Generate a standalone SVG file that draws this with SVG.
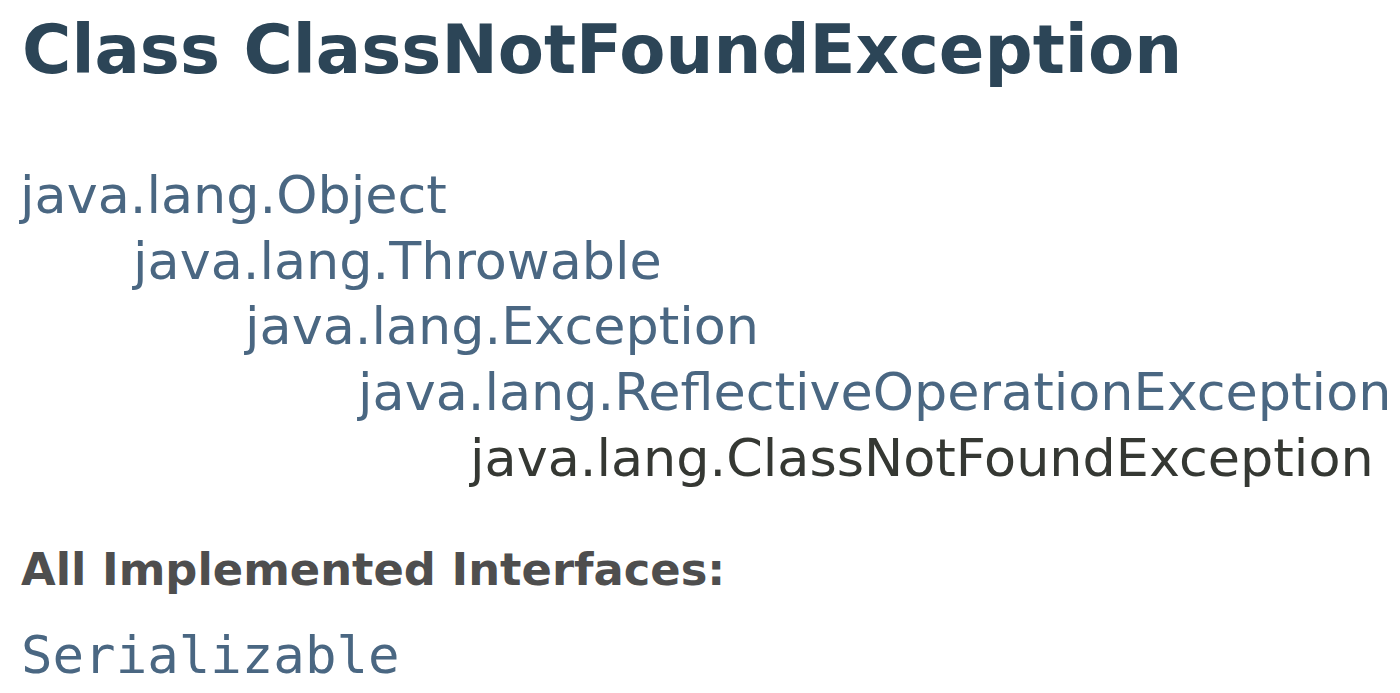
<svg xmlns="http://www.w3.org/2000/svg" width="1400" height="693" viewBox="0 0 1400 693">
<style>
.title{font-family:"DejaVu Sans",sans-serif;font-weight:bold;font-size:67.3px;fill:#2c4557}
.link{font-family:"DejaVu Sans",sans-serif;font-size:52.4px;fill:#4a6782}
.cur{font-family:"DejaVu Sans",sans-serif;font-size:52.4px;fill:#353833}
.dt{font-family:"DejaVu Sans",sans-serif;font-weight:bold;font-size:44.8px;fill:#4e4e4e}
.mono{font-family:"DejaVu Sans Mono",monospace;font-size:52.4px;fill:#4a6782}
</style>
<rect width="1400" height="693" fill="#ffffff"/>
<g id="title"><text class="title" x="22" y="73">Class ClassNotFoundException</text></g>
<g id="n-object"><text class="link" x="20" y="213">java.lang.Object</text></g>
<g id="n-throwable"><text class="link" x="133" y="279">java.lang.Throwable</text></g>
<g id="n-exception"><text class="link" x="245" y="344">java.lang.Exception</text></g>
<g id="n-reflective"><text class="link" x="358" y="410">java.lang.ReflectiveOperationException</text></g>
<g id="n-classnotfound"><text class="cur" x="470" y="476">java.lang.ClassNotFoundException</text></g>
<g id="connectors"></g>
<g id="interfaces"><text class="dt" x="21" y="585">All Implemented Interfaces:</text></g>
<g id="serializable"><text class="mono" x="21" y="673">Serializable</text></g>
</svg>
